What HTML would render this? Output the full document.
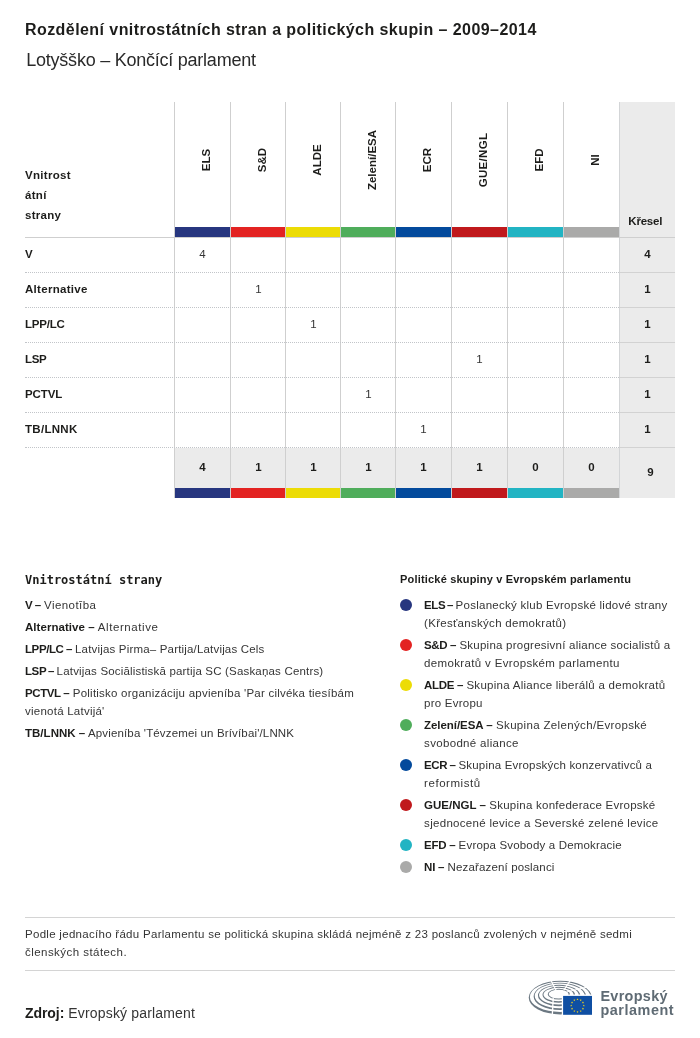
<!DOCTYPE html>
<html lang="cs">
<head>
<meta charset="utf-8">
<title>Rozdělení vnitrostátních stran a politických skupin</title>
<style>
html,body{margin:0;padding:0;background:#fff;}
body{width:700px;height:1038px;position:relative;overflow:hidden;
  font-family:"Liberation Sans",sans-serif;color:#1d1d1b;-webkit-font-smoothing:antialiased;}
#page{position:absolute;left:0;top:0;width:700px;height:1038px;will-change:transform;}
.abs{position:absolute;white-space:nowrap;line-height:1;}
.t{position:absolute;white-space:nowrap;line-height:1;transform-origin:0 0;color:#353535;}
.t b{color:#1d1d1b;}
b{font-weight:bold;}
/* header */
#title{left:25px;top:21.7px;font-size:16px;font-weight:bold;letter-spacing:0.43px;}
#subtitle{left:26.3px;top:50.7px;font-size:18px;letter-spacing:-0.24px;color:#2a2a2a;}
/* table */
.vline{position:absolute;top:102px;width:1px;height:396px;background:#cfcfcf;}
.bar{position:absolute;height:10px;}
.hline{position:absolute;left:25px;width:650px;height:1px;background:#cfcfcf;}
.dline{position:absolute;left:25px;width:650px;height:0;border-top:1px dotted #c2c5c9;}
.grp{position:absolute;width:120px;height:12px;top:153.5px;text-align:center;font-size:11.5px;font-weight:bold;white-space:nowrap;line-height:12px;
  transform:rotate(-90deg);}
.rowlab{position:absolute;left:25px;font-size:11.5px;letter-spacing:0.3px;font-weight:bold;line-height:1;white-space:nowrap;}
.num{position:absolute;width:57px;text-align:center;font-size:11.5px;line-height:1;color:#353535;}
.numb{font-weight:bold;color:#1d1d1b;}
</style>
</head>
<body>
<div id="page">

<div class="abs" id="title">Rozdělení vnitrostátních stran a politických skupin – 2009–2014</div>
<div class="abs" id="subtitle">Lotyšško – Končící parlament</div>

<!-- TABLE -->
<div id="table">
<div style="position:absolute;left:619px;top:102px;width:56px;height:396px;background:#ebebeb"></div>
<div style="position:absolute;left:174px;top:448px;width:445px;height:40px;background:#ebebeb"></div>
<div class="bar" style="left:175px;top:227px;width:55px;background:#27367f"></div>
<div class="bar" style="left:175px;top:488px;width:55px;background:#27367f"></div>
<div class="bar" style="left:231px;top:227px;width:54px;background:#e32322"></div>
<div class="bar" style="left:231px;top:488px;width:54px;background:#e32322"></div>
<div class="bar" style="left:286px;top:227px;width:54px;background:#ecdc05"></div>
<div class="bar" style="left:286px;top:488px;width:54px;background:#ecdc05"></div>
<div class="bar" style="left:341px;top:227px;width:54px;background:#4fad5b"></div>
<div class="bar" style="left:341px;top:488px;width:54px;background:#4fad5b"></div>
<div class="bar" style="left:396px;top:227px;width:55px;background:#034a9c"></div>
<div class="bar" style="left:396px;top:488px;width:55px;background:#034a9c"></div>
<div class="bar" style="left:452px;top:227px;width:55px;background:#c0191c"></div>
<div class="bar" style="left:452px;top:488px;width:55px;background:#c0191c"></div>
<div class="bar" style="left:508px;top:227px;width:55px;background:#22b4c3"></div>
<div class="bar" style="left:508px;top:488px;width:55px;background:#22b4c3"></div>
<div class="bar" style="left:564px;top:227px;width:55px;background:#aaaaa9"></div>
<div class="bar" style="left:564px;top:488px;width:55px;background:#aaaaa9"></div>
<div class="vline" style="left:174px"></div>
<div class="vline" style="left:230px"></div>
<div class="vline" style="left:285px"></div>
<div class="vline" style="left:340px"></div>
<div class="vline" style="left:395px"></div>
<div class="vline" style="left:451px"></div>
<div class="vline" style="left:507px"></div>
<div class="vline" style="left:563px"></div>
<div class="vline" style="left:619px;background:#d3d5d7"></div>
<div class="hline" style="top:237px"></div>
<div class="dline" style="top:272px;width:594px"></div>
<div class="hline" style="top:272px;left:619px;width:56px;background:#d2d2d2"></div>
<div class="dline" style="top:307px;width:594px"></div>
<div class="hline" style="top:307px;left:619px;width:56px;background:#d2d2d2"></div>
<div class="dline" style="top:342px;width:594px"></div>
<div class="hline" style="top:342px;left:619px;width:56px;background:#d2d2d2"></div>
<div class="dline" style="top:377px;width:594px"></div>
<div class="hline" style="top:377px;left:619px;width:56px;background:#d2d2d2"></div>
<div class="dline" style="top:412px;width:594px"></div>
<div class="hline" style="top:412px;left:619px;width:56px;background:#d2d2d2"></div>
<div class="dline" style="top:447px;width:594px"></div>
<div class="hline" style="top:447px;left:619px;width:56px;background:#d2d2d2"></div>
<div class="rowlab" style="top:170px">Vnitrost</div>
<div class="rowlab" style="top:190px">átní</div>
<div class="rowlab" style="top:210px">strany</div>
<div class="rowlab" style="left:628.3px;top:216px;letter-spacing:-0.2px">Křesel</div>
<div class="grp" id="g0" style="left:146.1px">ELS</div>
<div class="grp" id="g1" style="left:201.6px">S&amp;D</div>
<div class="grp" id="g2" style="left:256.6px">ALDE</div>
<div class="grp" id="g3" style="left:311.6px">Zelení/ESA</div>
<div class="grp" id="g4" style="left:367.1px">ECR</div>
<div class="grp" id="g5" style="letter-spacing:0.3px;left:423.1px">GUE/NGL</div>
<div class="grp" id="g6" style="left:479.1px">EFD</div>
<div class="grp" id="g7" style="left:535.1px">NI</div>
<div class="rowlab" style="top:248.5px">V</div>
<div class="num" style="left:174px;top:248.5px">4</div>
<div class="num numb" style="left:619px;top:248.5px">4</div>
<div class="rowlab" style="top:283.5px">Alternative</div>
<div class="num" style="left:230px;top:283.5px">1</div>
<div class="num numb" style="left:619px;top:283.5px">1</div>
<div class="rowlab" style="top:318.5px;letter-spacing:-0.2px">LPP/LC</div>
<div class="num" style="left:285px;top:318.5px">1</div>
<div class="num numb" style="left:619px;top:318.5px">1</div>
<div class="rowlab" style="top:353.5px;letter-spacing:-0.35px">LSP</div>
<div class="num" style="left:451px;top:353.5px">1</div>
<div class="num numb" style="left:619px;top:353.5px">1</div>
<div class="rowlab" style="top:388.5px;letter-spacing:-0.1px">PCTVL</div>
<div class="num" style="left:340px;top:388.5px">1</div>
<div class="num numb" style="left:619px;top:388.5px">1</div>
<div class="rowlab" style="top:423.5px">TB/LNNK</div>
<div class="num" style="left:395px;top:423.5px">1</div>
<div class="num numb" style="left:619px;top:423.5px">1</div>
<div class="num numb" style="left:174px;top:462px">4</div>
<div class="num numb" style="left:230px;top:462px">1</div>
<div class="num numb" style="left:285px;top:462px">1</div>
<div class="num numb" style="left:340px;top:462px">1</div>
<div class="num numb" style="left:395px;top:462px">1</div>
<div class="num numb" style="left:451px;top:462px">1</div>
<div class="num numb" style="left:507px;top:462px">0</div>
<div class="num numb" style="left:563px;top:462px">0</div>
<div class="num numb" style="left:622px;top:467px">9</div>
</div>

<!-- LEGENDS -->
<div id="legends">
<div style="position:absolute;left:400px;top:598.9px;width:12.2px;height:12.2px;border-radius:50%;background:#27367f"></div>
<div style="position:absolute;left:400px;top:638.9px;width:12.2px;height:12.2px;border-radius:50%;background:#e32322"></div>
<div style="position:absolute;left:400px;top:678.9px;width:12.2px;height:12.2px;border-radius:50%;background:#ecdc05"></div>
<div style="position:absolute;left:400px;top:718.9px;width:12.2px;height:12.2px;border-radius:50%;background:#4fad5b"></div>
<div style="position:absolute;left:400px;top:758.9px;width:12.2px;height:12.2px;border-radius:50%;background:#034a9c"></div>
<div style="position:absolute;left:400px;top:798.9px;width:12.2px;height:12.2px;border-radius:50%;background:#c0191c"></div>
<div style="position:absolute;left:400px;top:838.9px;width:12.2px;height:12.2px;border-radius:50%;background:#22b4c3"></div>
<div style="position:absolute;left:400px;top:861.1px;width:12.2px;height:12.2px;border-radius:50%;background:#aaaaa9"></div>
<div class="t" id="lh" style="left:25px;top:573.54px;font-size:12px;font-family:'DejaVu Sans Mono','Liberation Mono',monospace;font-weight:bold;color:#1d1d1b;">Vnitrostátní strany</div>
<div class="t" id="l1" style="left:25px;top:599.82px;font-size:11.5px;letter-spacing:0.43px;"><b style="letter-spacing:-0.4px">V<span style="letter-spacing:-0.74px"> –</span></b> Vienotība</div>
<div class="t" id="l2" style="left:25px;top:621.72px;font-size:11.5px;letter-spacing:0.57px;"><b style="letter-spacing:0.05px">Alternative<span style="letter-spacing:0.05px"> –</span></b> Alternative</div>
<div class="t" id="l3" style="left:25px;top:643.72px;font-size:11.5px;letter-spacing:0.18px;"><b style="letter-spacing:-0.4px">LPP/LC<span style="letter-spacing:-0.73px"> –</span></b> Latvijas Pirma– Partija/Latvijas Cels</div>
<div class="t" id="l4" style="left:25px;top:665.72px;font-size:11.5px;letter-spacing:0.18px;"><b style="letter-spacing:-0.4px">LSP<span style="letter-spacing:-1.27px"> –</span></b> Latvijas Sociālistiskā partija SC (Saskaņas Centrs)</div>
<div class="t" id="l5" style="left:25px;top:687.82px;font-size:11.5px;letter-spacing:0.23px;"><b style="letter-spacing:-0.39px">PCTVL<span style="letter-spacing:-0.39px"> –</span></b> Politisko organizáciju apvieníba 'Par cilvéka tiesíbám</div>
<div class="t" id="l6" style="left:25px;top:705.62px;font-size:11.5px;letter-spacing:0.24px;">vienotá Latvijá'</div>
<div class="t" id="l7" style="left:25px;top:727.72px;font-size:11.5px;letter-spacing:0.15px;"><b style="letter-spacing:0.02px">TB/LNNK<span style="letter-spacing:0.02px"> –</span></b> Apvieníba 'Tévzemei un Brívíbai'/LNNK</div>
<div class="t" id="rh" style="left:400.1px;top:574.19px;font-size:11px;letter-spacing:0.18px;"><b>Politické skupiny v Evropském parlamentu</b></div>
<div class="t" id="r1" style="left:424.1px;top:599.92px;font-size:11.5px;letter-spacing:0.26px;"><b style="letter-spacing:-0.4px">ELS<span style="letter-spacing:-1.36px"> –</span></b> Poslanecký klub Evropské lidové strany</div>
<div class="t" id="r2" style="left:424.1px;top:617.72px;font-size:11.5px;letter-spacing:0.29px;">(Křesťanských demokratů)</div>
<div class="t" id="r3" style="left:424.1px;top:639.72px;font-size:11.5px;letter-spacing:0.24px;"><b style="letter-spacing:-0.4px">S&amp;D<span style="letter-spacing:-0.4px"> –</span></b> Skupina progresivní aliance socialistů a</div>
<div class="t" id="r4" style="left:424.1px;top:657.52px;font-size:11.5px;letter-spacing:0.34px;">demokratů v Evropském parlamentu</div>
<div class="t" id="r5" style="left:424.1px;top:679.72px;font-size:11.5px;letter-spacing:0.27px;"><b style="letter-spacing:-0.34px">ALDE<span style="letter-spacing:-0.34px"> –</span></b> Skupina Aliance liberálů a demokratů</div>
<div class="t" id="r6" style="left:424.1px;top:697.52px;font-size:11.5px;letter-spacing:0.24px;">pro Evropu</div>
<div class="t" id="r7" style="left:424.1px;top:719.72px;font-size:11.5px;letter-spacing:0.34px;"><b style="letter-spacing:-0.07px">Zelení/ESA<span style="letter-spacing:-0.07px"> –</span></b> Skupina Zelených/Evropské</div>
<div class="t" id="r8" style="left:424.1px;top:737.52px;font-size:11.5px;letter-spacing:0.32px;">svobodné aliance</div>
<div class="t" id="r9" style="left:424.1px;top:759.72px;font-size:11.5px;letter-spacing:0.19px;"><b style="letter-spacing:-0.4px">ECR<span style="letter-spacing:-0.88px"> –</span></b> Skupina Evropských konzervativců a</div>
<div class="t" id="r10" style="left:424.1px;top:777.52px;font-size:11.5px;letter-spacing:0.55px;">reformistů</div>
<div class="t" id="r11" style="left:424.1px;top:799.72px;font-size:11.5px;letter-spacing:0.25px;"><b style="letter-spacing:-0.01px">GUE/NGL<span style="letter-spacing:-0.01px"> –</span></b> Skupina konfederace Evropské</div>
<div class="t" id="r12" style="left:424.1px;top:817.52px;font-size:11.5px;letter-spacing:0.3px;">sjednocené levice a Severské zelené levice</div>
<div class="t" id="r13" style="left:424.1px;top:839.72px;font-size:11.5px;letter-spacing:0.17px;"><b style="letter-spacing:-0.29px">EFD<span style="letter-spacing:-0.29px"> –</span></b> Evropa Svobody a Demokracie</div>
<div class="t" id="r14" style="left:424.1px;top:861.72px;font-size:11.5px;letter-spacing:0.14px;"><b style="letter-spacing:-0.23px">NI<span style="letter-spacing:-0.23px"> –</span></b> Nezařazení poslanci</div>
</div>

<!-- FOOTER -->
<div id="footer">
<div class="hline" style="top:917px;background:#d4d4d4"></div>
<div class="hline" style="top:970px;background:#d4d4d4"></div>
<div id="logo">
<svg style="position:absolute;left:524px;top:976px" width="76" height="44" viewBox="524 976 76 44">
<path fill="#6c7882" fill-rule="evenodd" d="M547.70,994.22a11.15,5.38 0 1,0 22.30,0a11.15,5.38 0 1,0 -22.30,0ZM548.68,994.08a9.95,4.32 0 1,0 19.90,0a9.95,4.32 0 1,0 -19.90,0ZM542.48,994.85a16.26,8.00 0 1,0 32.53,0a16.26,8.00 0 1,0 -32.53,0ZM543.50,994.55a15.01,6.80 0 1,0 30.03,0a15.01,6.80 0 1,0 -30.03,0ZM537.95,995.51a21.14,10.69 0 1,0 42.28,0a21.14,10.69 0 1,0 -42.28,0ZM539.03,995.09a19.84,9.31 0 1,0 39.68,0a19.84,9.31 0 1,0 -39.68,0ZM533.62,996.44a26.25,13.61 0 1,0 52.51,0a26.25,13.61 0 1,0 -52.51,0ZM534.75,995.86a24.91,12.09 0 1,0 49.81,0a24.91,12.09 0 1,0 -49.81,0ZM528.70,997.60a31.62,16.80 0 1,0 63.24,0a31.62,16.80 0 1,0 -63.24,0ZM529.88,996.90a30.22,15.10 0 1,0 60.44,0a30.22,15.10 0 1,0 -60.44,0Z"/>
<line x1="550.9" y1="980.2" x2="556.1" y2="990.2" stroke="#fff" stroke-width="1.2"/>
<line x1="570.0" y1="980.8" x2="563.9" y2="990.2" stroke="#fff" stroke-width="1.2"/>
<line x1="586.5" y1="987.2" x2="566.5" y2="992.0" stroke="#fff" stroke-width="1.1"/>
<line x1="553.25" y1="997.6" x2="552.3" y2="1015.5" stroke="#fff" stroke-width="1.3"/>
<rect x="561.8000000000001" y="994.5" width="31.9" height="21.9" fill="#fff"/>
<rect x="563.1" y="995.9" width="28.9" height="18.9" fill="#0f4fa3"/>
<polygon points="577.50,998.15 577.78,998.91 578.59,998.94 577.96,999.45 578.18,1000.23 577.50,999.78 576.82,1000.23 577.04,999.45 576.41,998.94 577.22,998.91" fill="#f7d417"/>
<polygon points="580.65,998.99 580.93,999.75 581.74,999.79 581.11,1000.29 581.33,1001.07 580.65,1000.63 579.97,1001.07 580.19,1000.29 579.56,999.79 580.37,999.75" fill="#f7d417"/>
<polygon points="582.96,1001.30 583.24,1002.06 584.05,1002.09 583.42,1002.60 583.63,1003.38 582.96,1002.93 582.28,1003.38 582.50,1002.60 581.86,1002.09 582.67,1002.06" fill="#f7d417"/>
<polygon points="583.80,1004.45 584.08,1005.21 584.89,1005.24 584.26,1005.75 584.48,1006.53 583.80,1006.08 583.12,1006.53 583.34,1005.75 582.71,1005.24 583.52,1005.21" fill="#f7d417"/>
<polygon points="582.96,1007.60 583.24,1008.36 584.05,1008.39 583.42,1008.90 583.63,1009.68 582.96,1009.23 582.28,1009.68 582.50,1008.90 581.86,1008.39 582.67,1008.36" fill="#f7d417"/>
<polygon points="580.65,1009.91 580.93,1010.67 581.74,1010.70 581.11,1011.21 581.33,1011.99 580.65,1011.54 579.97,1011.99 580.19,1011.21 579.56,1010.70 580.37,1010.67" fill="#f7d417"/>
<polygon points="577.50,1010.75 577.78,1011.51 578.59,1011.54 577.96,1012.05 578.18,1012.83 577.50,1012.38 576.82,1012.83 577.04,1012.05 576.41,1011.54 577.22,1011.51" fill="#f7d417"/>
<polygon points="574.35,1009.91 574.63,1010.67 575.44,1010.70 574.81,1011.21 575.03,1011.99 574.35,1011.54 573.67,1011.99 573.89,1011.21 573.26,1010.70 574.07,1010.67" fill="#f7d417"/>
<polygon points="572.04,1007.60 572.33,1008.36 573.14,1008.39 572.50,1008.90 572.72,1009.68 572.04,1009.23 571.37,1009.68 571.58,1008.90 570.95,1008.39 571.76,1008.36" fill="#f7d417"/>
<polygon points="571.20,1004.45 571.48,1005.21 572.29,1005.24 571.66,1005.75 571.88,1006.53 571.20,1006.08 570.52,1006.53 570.74,1005.75 570.11,1005.24 570.92,1005.21" fill="#f7d417"/>
<polygon points="572.04,1001.30 572.33,1002.06 573.14,1002.09 572.50,1002.60 572.72,1003.38 572.04,1002.93 571.37,1003.38 571.58,1002.60 570.95,1002.09 571.76,1002.06" fill="#f7d417"/>
<polygon points="574.35,998.99 574.63,999.75 575.44,999.79 574.81,1000.29 575.03,1001.07 574.35,1000.63 573.67,1001.07 573.89,1000.29 573.26,999.79 574.07,999.75" fill="#f7d417"/>
</svg>
</div>
<div class="t" id="ep1" style="left:600.4px;letter-spacing:0.33px;top:988.7px;font-size:14.4px;font-weight:bold;color:#5f6b74;">Evropský</div>
<div class="t" id="ep2" style="left:600.4px;letter-spacing:0.55px;top:1002.9px;font-size:14.4px;font-weight:bold;color:#5f6b74;">parlament</div>
<div id="ftext">
<div class="t" id="f1" style="left:25px;top:929.02px;font-size:11.5px;letter-spacing:0.29px;">Podle jednacího řádu Parlamentu se politická skupina skládá nejméně z 23 poslanců zvolených v nejméně sedmi</div>
<div class="t" id="f2" style="left:25px;top:946.82px;font-size:11.5px;letter-spacing:0.45px;">členských státech.</div>
<div class="t" id="src" style="left:25px;top:1006.15px;font-size:14px;letter-spacing:0.17px;"><b style="letter-spacing:-0.07px">Zdroj:</b> Evropský parlament</div>
</div>
</div>

</div>
</body>
</html>
